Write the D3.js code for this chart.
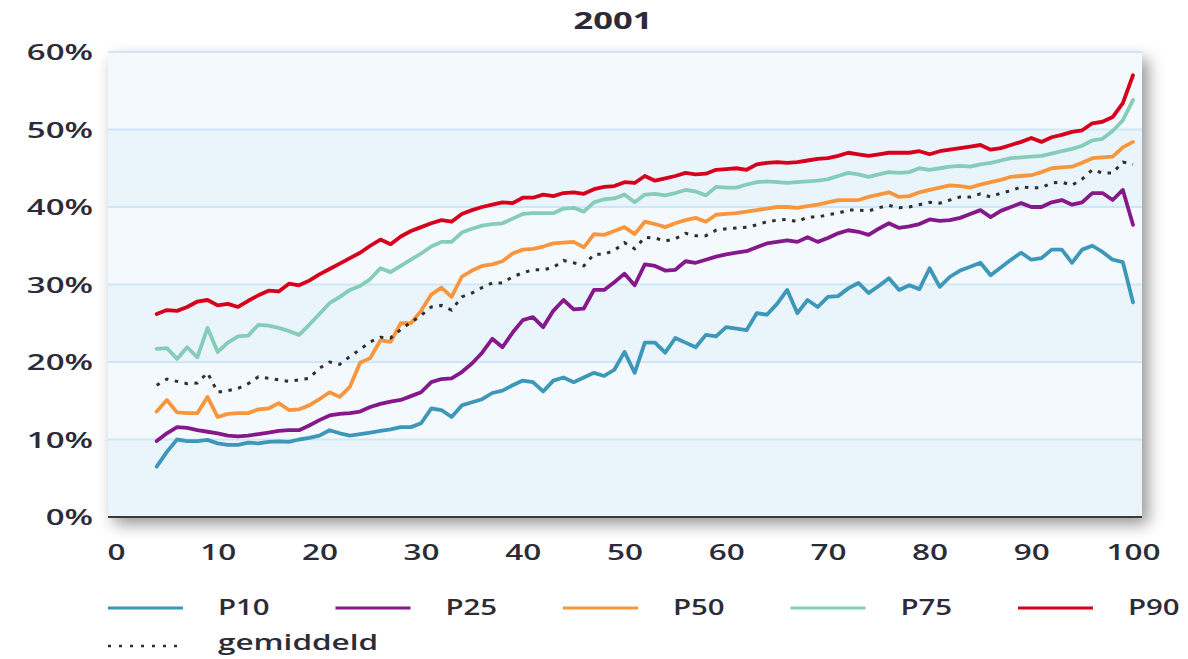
<!DOCTYPE html>
<html>
<head>
<meta charset="utf-8">
<script src="https://cdn.jsdelivr.net/npm/d3@7"></script>
<style>
  body { margin: 0; background: #fff; }
  svg { display: block; font-family: "Open Sans", "Noto Sans", sans-serif; }
</style>
</head>
<body>
<div id="chart"></div>
<script>
// x positions (percentile of the income distribution)
const positions = d3.range(4, 101);

const p10 = [
  6.5, 8.4, 10.0, 9.8, 9.8, 9.95, 9.5, 9.3, 9.3, 9.6,
  9.5, 9.7, 9.75, 9.7, 10.0, 10.2, 10.5, 11.2, 10.8, 10.5,
  10.7, 10.9, 11.1, 11.3, 11.6, 11.6, 12.1, 14.0, 13.8, 12.9,
  14.4, 14.8, 15.2, 16.0, 16.3, 17.0, 17.6, 17.4, 16.2, 17.6,
  18.0, 17.4, 18.0, 18.6, 18.2, 19.0, 21.3, 18.6, 22.5, 22.5,
  21.2, 23.1, 22.5, 21.9, 23.5, 23.3, 24.5, 24.3, 24.1, 26.3,
  26.1, 27.5, 29.3, 26.3, 28.0, 27.1, 28.4, 28.5, 29.5, 30.2,
  28.9, 29.8, 30.8, 29.3, 29.9, 29.4, 32.1, 29.7, 31.0, 31.8,
  32.3, 32.8, 31.2, 32.2, 33.2, 34.1, 33.2, 33.4, 34.5, 34.5,
  32.8, 34.5, 35.0, 34.2, 33.2, 32.9, 27.7
];
const p25 = [
  9.8, 10.8, 11.6, 11.5, 11.2, 11.0, 10.8, 10.5, 10.4, 10.5,
  10.7, 10.9, 11.1, 11.2, 11.2, 11.8, 12.5, 13.1, 13.3, 13.4,
  13.6, 14.2, 14.6, 14.9, 15.1, 15.6, 16.1, 17.4, 17.8, 17.9,
  18.7, 19.8, 21.2, 23.0, 21.9, 23.8, 25.4, 25.8, 24.5, 26.6,
  28.0, 26.8, 26.9, 29.3, 29.3, 30.3, 31.4, 29.9, 32.6, 32.4,
  31.8, 31.9, 33.0, 32.8, 33.2, 33.6, 33.9, 34.1, 34.3, 34.8,
  35.3, 35.5, 35.7, 35.5, 36.1, 35.5, 36.0, 36.6, 37.0, 36.8,
  36.4, 37.2, 37.9, 37.3, 37.5, 37.8, 38.4, 38.2, 38.3, 38.6,
  39.1, 39.6, 38.7, 39.5, 40.0, 40.5, 40.0, 40.0, 40.6, 40.9,
  40.3, 40.6, 41.8, 41.8, 40.9, 42.2, 37.7
];
const p50 = [
  13.6, 15.1, 13.5, 13.4, 13.4, 15.5, 12.9, 13.3, 13.4, 13.4,
  13.9, 14.0, 14.7, 13.8, 13.9, 14.4, 15.2, 16.1, 15.5, 16.8,
  19.9, 20.5, 22.8, 22.6, 25.0, 25.0, 26.6, 28.7, 29.6, 28.4,
  31.0, 31.8, 32.4, 32.6, 33.0, 34.0, 34.5, 34.6, 34.9, 35.3,
  35.4, 35.5, 34.8, 36.5, 36.4, 36.9, 37.4, 36.5, 38.1, 37.8,
  37.4, 37.9, 38.3, 38.6, 38.1, 39.0, 39.1, 39.2, 39.4, 39.6,
  39.8, 40.0, 40.0, 39.9, 40.1, 40.3, 40.6, 40.9, 40.9, 40.9,
  41.3, 41.6, 41.9, 41.3, 41.4, 41.9, 42.2, 42.5, 42.8, 42.7,
  42.5, 42.9, 43.2, 43.5, 43.9, 44.0, 44.1, 44.5, 45.0, 45.1,
  45.2, 45.7, 46.3, 46.4, 46.5, 47.7, 48.4
];
const p75 = [
  21.7, 21.8, 20.4, 21.9, 20.6, 24.4, 21.3, 22.5, 23.3, 23.4,
  24.8, 24.7, 24.4, 24.0, 23.5, 24.8, 26.2, 27.6, 28.4, 29.3,
  29.8, 30.7, 32.1, 31.6, 32.4, 33.2, 34.0, 34.9, 35.5, 35.5,
  36.7, 37.2, 37.6, 37.8, 37.9, 38.5, 39.1, 39.2, 39.2, 39.2,
  39.8, 39.9, 39.4, 40.6, 41.0, 41.1, 41.6, 40.6, 41.6, 41.7,
  41.5, 41.8, 42.2, 42.0, 41.5, 42.6, 42.5, 42.5, 42.9, 43.2,
  43.3, 43.2, 43.1, 43.2, 43.3, 43.4, 43.6, 44.0, 44.4, 44.2,
  43.9, 44.2, 44.5, 44.4, 44.5, 45.0, 44.8, 45.0, 45.2, 45.3,
  45.2, 45.5, 45.7, 46.0, 46.3, 46.4, 46.5, 46.6, 46.9, 47.2,
  47.5, 47.9, 48.6, 48.8, 49.8, 51.2, 53.8
];
const p90 = [
  26.2, 26.7, 26.6, 27.1, 27.8, 28.0, 27.3, 27.5, 27.1, 27.9,
  28.6, 29.2, 29.1, 30.1, 29.9, 30.5, 31.3, 32.0, 32.7, 33.4,
  34.1, 35.0, 35.8, 35.2, 36.2, 36.9, 37.4, 37.9, 38.3, 38.1,
  39.1, 39.6, 40.0, 40.3, 40.6, 40.5, 41.2, 41.2, 41.6, 41.4,
  41.8, 41.9, 41.7, 42.3, 42.6, 42.7, 43.2, 43.1, 44.0, 43.4,
  43.7, 44.0, 44.4, 44.2, 44.3, 44.8, 44.9, 45.0, 44.8, 45.5,
  45.7, 45.8, 45.7, 45.8, 46.0, 46.2, 46.3, 46.6, 47.0, 46.8,
  46.6, 46.8, 47.0, 47.0, 47.0, 47.2, 46.8, 47.2, 47.4, 47.6,
  47.8, 48.0, 47.4, 47.6, 48.0, 48.4, 48.9, 48.4, 49.0, 49.3,
  49.7, 49.9, 50.8, 51.0, 51.6, 53.4, 57.0
];
const gemiddeld = [
  17.0, 17.8, 17.5, 17.2, 17.3, 18.6, 16.1, 16.3, 16.6, 17.2,
  18.1, 17.9, 17.7, 17.5, 17.7, 17.9, 19.2, 20.0, 19.7, 20.7,
  21.6, 22.6, 23.2, 23.1, 24.2, 25.1, 26.0, 27.1, 27.3, 26.7,
  28.4, 28.9, 29.6, 30.2, 30.2, 31.0, 31.5, 31.9, 31.9, 32.2,
  33.1, 32.8, 32.4, 33.9, 33.9, 34.4, 35.4, 34.6, 36.1, 36.0,
  35.6, 35.9, 36.6, 36.3, 36.3, 37.0, 37.2, 37.3, 37.4, 37.7,
  38.1, 38.3, 38.4, 38.1, 38.7, 38.7, 39.0, 39.2, 39.6, 39.6,
  39.5, 39.9, 40.2, 39.9, 40.0, 40.3, 40.6, 40.5, 40.9, 41.3,
  41.3, 41.7, 41.3, 41.8, 42.1, 42.6, 42.5, 42.5, 43.1, 43.2,
  42.8, 43.6, 44.8, 44.4, 44.4, 45.8, 45.5
];

const seriesNames = ["P10", "P25", "P50", "P75", "P90"];
const xTicks = [0, 10, 20, 30, 40, 50, 60, 70, 80, 90, 100];
const yTicks = [0, 10, 20, 30, 40, 50, 60];

const colors = {
  P10: "#3d97b9",
  P25: "#85188a",
  P50: "#f7963d",
  P75: "#85cdb9",
  P90: "#d6001c"
};

const width = 1188, height = 659;
const plot = { left: 108, right: 1142, top: 52, bottom: 517 };
const stretch = 1.5; // source picture is widened, text looks stretched
const textColor = "#2c2c38";

const svg = d3.select("#chart").append("svg")
  .attr("width", width)
  .attr("height", height);

const defs = svg.append("defs");
const shadow = defs.append("filter").attr("id", "shadow")
  .attr("x", "-10%").attr("y", "-20%").attr("width", "120%").attr("height", "140%");
shadow.append("feDropShadow")
  .attr("dx", 6).attr("dy", 7)
  .attr("stdDeviation", 8)
  .attr("flood-color", "#000")
  .attr("flood-opacity", 0.42);

const x = d3.scaleLinear().domain([0, 100]).range([116, 1133]);
const y = d3.scaleLinear().domain([0, 60]).range([plot.bottom, plot.top]);

// plot panel with shadow
svg.append("rect")
  .attr("x", plot.left).attr("y", plot.top)
  .attr("width", plot.right - plot.left)
  .attr("height", plot.bottom - plot.top)
  .attr("fill", "#eef7fc")
  .attr("filter", "url(#shadow)");

// alternating bands
const bands = d3.pairs(yTicks);
svg.selectAll(".band")
  .data(bands)
  .enter().append("rect")
  .attr("x", plot.left)
  .attr("y", d => y(d[1]))
  .attr("width", plot.right - plot.left)
  .attr("height", d => y(d[0]) - y(d[1]))
  .attr("fill", (d, i) => i % 2 === 0 ? "#eaf5fb" : "#f4f9fd");

// gridlines
svg.selectAll(".grid")
  .data(yTicks.filter(t => t > 0))
  .enter().append("line")
  .attr("x1", plot.left).attr("x2", plot.right)
  .attr("y1", d => y(d)).attr("y2", d => y(d))
  .attr("stroke", "#cde7f6")
  .attr("stroke-width", 2);

// series lines
const line = d3.line()
  .x((d, i) => x(positions[i]))
  .y(d => y(d));

const series = [p10, p25, p50, p75, p90];
series.forEach((vals, k) => {
  svg.append("path")
    .datum(vals)
    .attr("d", line)
    .attr("fill", "none")
    .attr("stroke", colors[seriesNames[k]])
    .attr("stroke-width", 3.8)
    .attr("stroke-linejoin", "round")
    .attr("stroke-linecap", "round");
});

svg.append("path")
  .datum(gemiddeld)
  .attr("d", line)
  .attr("fill", "none")
  .attr("stroke", "#2f2f2f")
  .attr("stroke-width", 3)
  .attr("stroke-dasharray", "3.5,6.5");

// bottom axis line
svg.append("line")
  .attr("x1", plot.left).attr("x2", plot.right)
  .attr("y1", plot.bottom).attr("y2", plot.bottom)
  .attr("stroke", "#3a3a3a")
  .attr("stroke-width", 2);

// axes
const yAxis = svg.append("g")
  .attr("transform", `translate(${plot.left},0)`)
  .call(d3.axisLeft(y).tickValues(yTicks).tickSize(0).tickFormat(d => d + "%"));
yAxis.select(".domain").remove();
yAxis.selectAll("text")
  .attr("x", -15 / stretch)
  .attr("dy", "0.36em")
  .attr("transform", `scale(${stretch},1)`)
  .style("font-family", "'Open Sans', sans-serif")
  .style("font-size", "22px")
  .style("font-weight", 600)
  .style("fill", textColor);

const xAxis = svg.append("g")
  .attr("transform", `translate(0,${plot.bottom})`)
  .call(d3.axisBottom(x).tickValues(xTicks).tickSize(0).tickFormat(d3.format("d")));
xAxis.select(".domain").remove();
xAxis.selectAll("text")
  .attr("y", 35)
  .attr("dy", "0.36em")
  .attr("transform", `scale(${stretch},1)`)
  .style("font-family", "'Open Sans', sans-serif")
  .style("font-size", "21px")
  .style("font-weight", 600)
  .style("fill", textColor);

// title
svg.append("text")
  .attr("transform", `translate(613,29) scale(${stretch},1)`)
  .attr("text-anchor", "middle")
  .style("font-size", "23px")
  .style("font-weight", 700)
  .style("fill", textColor)
  .text("2001");

// legend
const legend = svg.append("g");
seriesNames.forEach((name, i) => {
  const lx = 108 + i * 227.5;
  legend.append("line")
    .attr("x1", lx).attr("x2", lx + 75)
    .attr("y1", 608).attr("y2", 608)
    .attr("stroke", colors[name])
    .attr("stroke-width", 3);
  legend.append("text")
    .attr("transform", `translate(${lx + 110},615) scale(1.4,1)`)
    .style("font-size", "21px")
    .style("font-weight", 600)
    .style("fill", textColor)
    .text(name);
});
legend.append("line")
  .attr("x1", 108).attr("x2", 180)
  .attr("y1", 646).attr("y2", 646)
  .attr("stroke", "#2f2f2f")
  .attr("stroke-width", 2.5)
  .attr("stroke-dasharray", "3,8");
legend.append("text")
  .attr("transform", `translate(218,650) scale(${stretch},1)`)
  .style("font-size", "21px")
  .style("font-weight", 600)
  .style("fill", textColor)
  .text("gemiddeld");
</script>
</body>
</html>
